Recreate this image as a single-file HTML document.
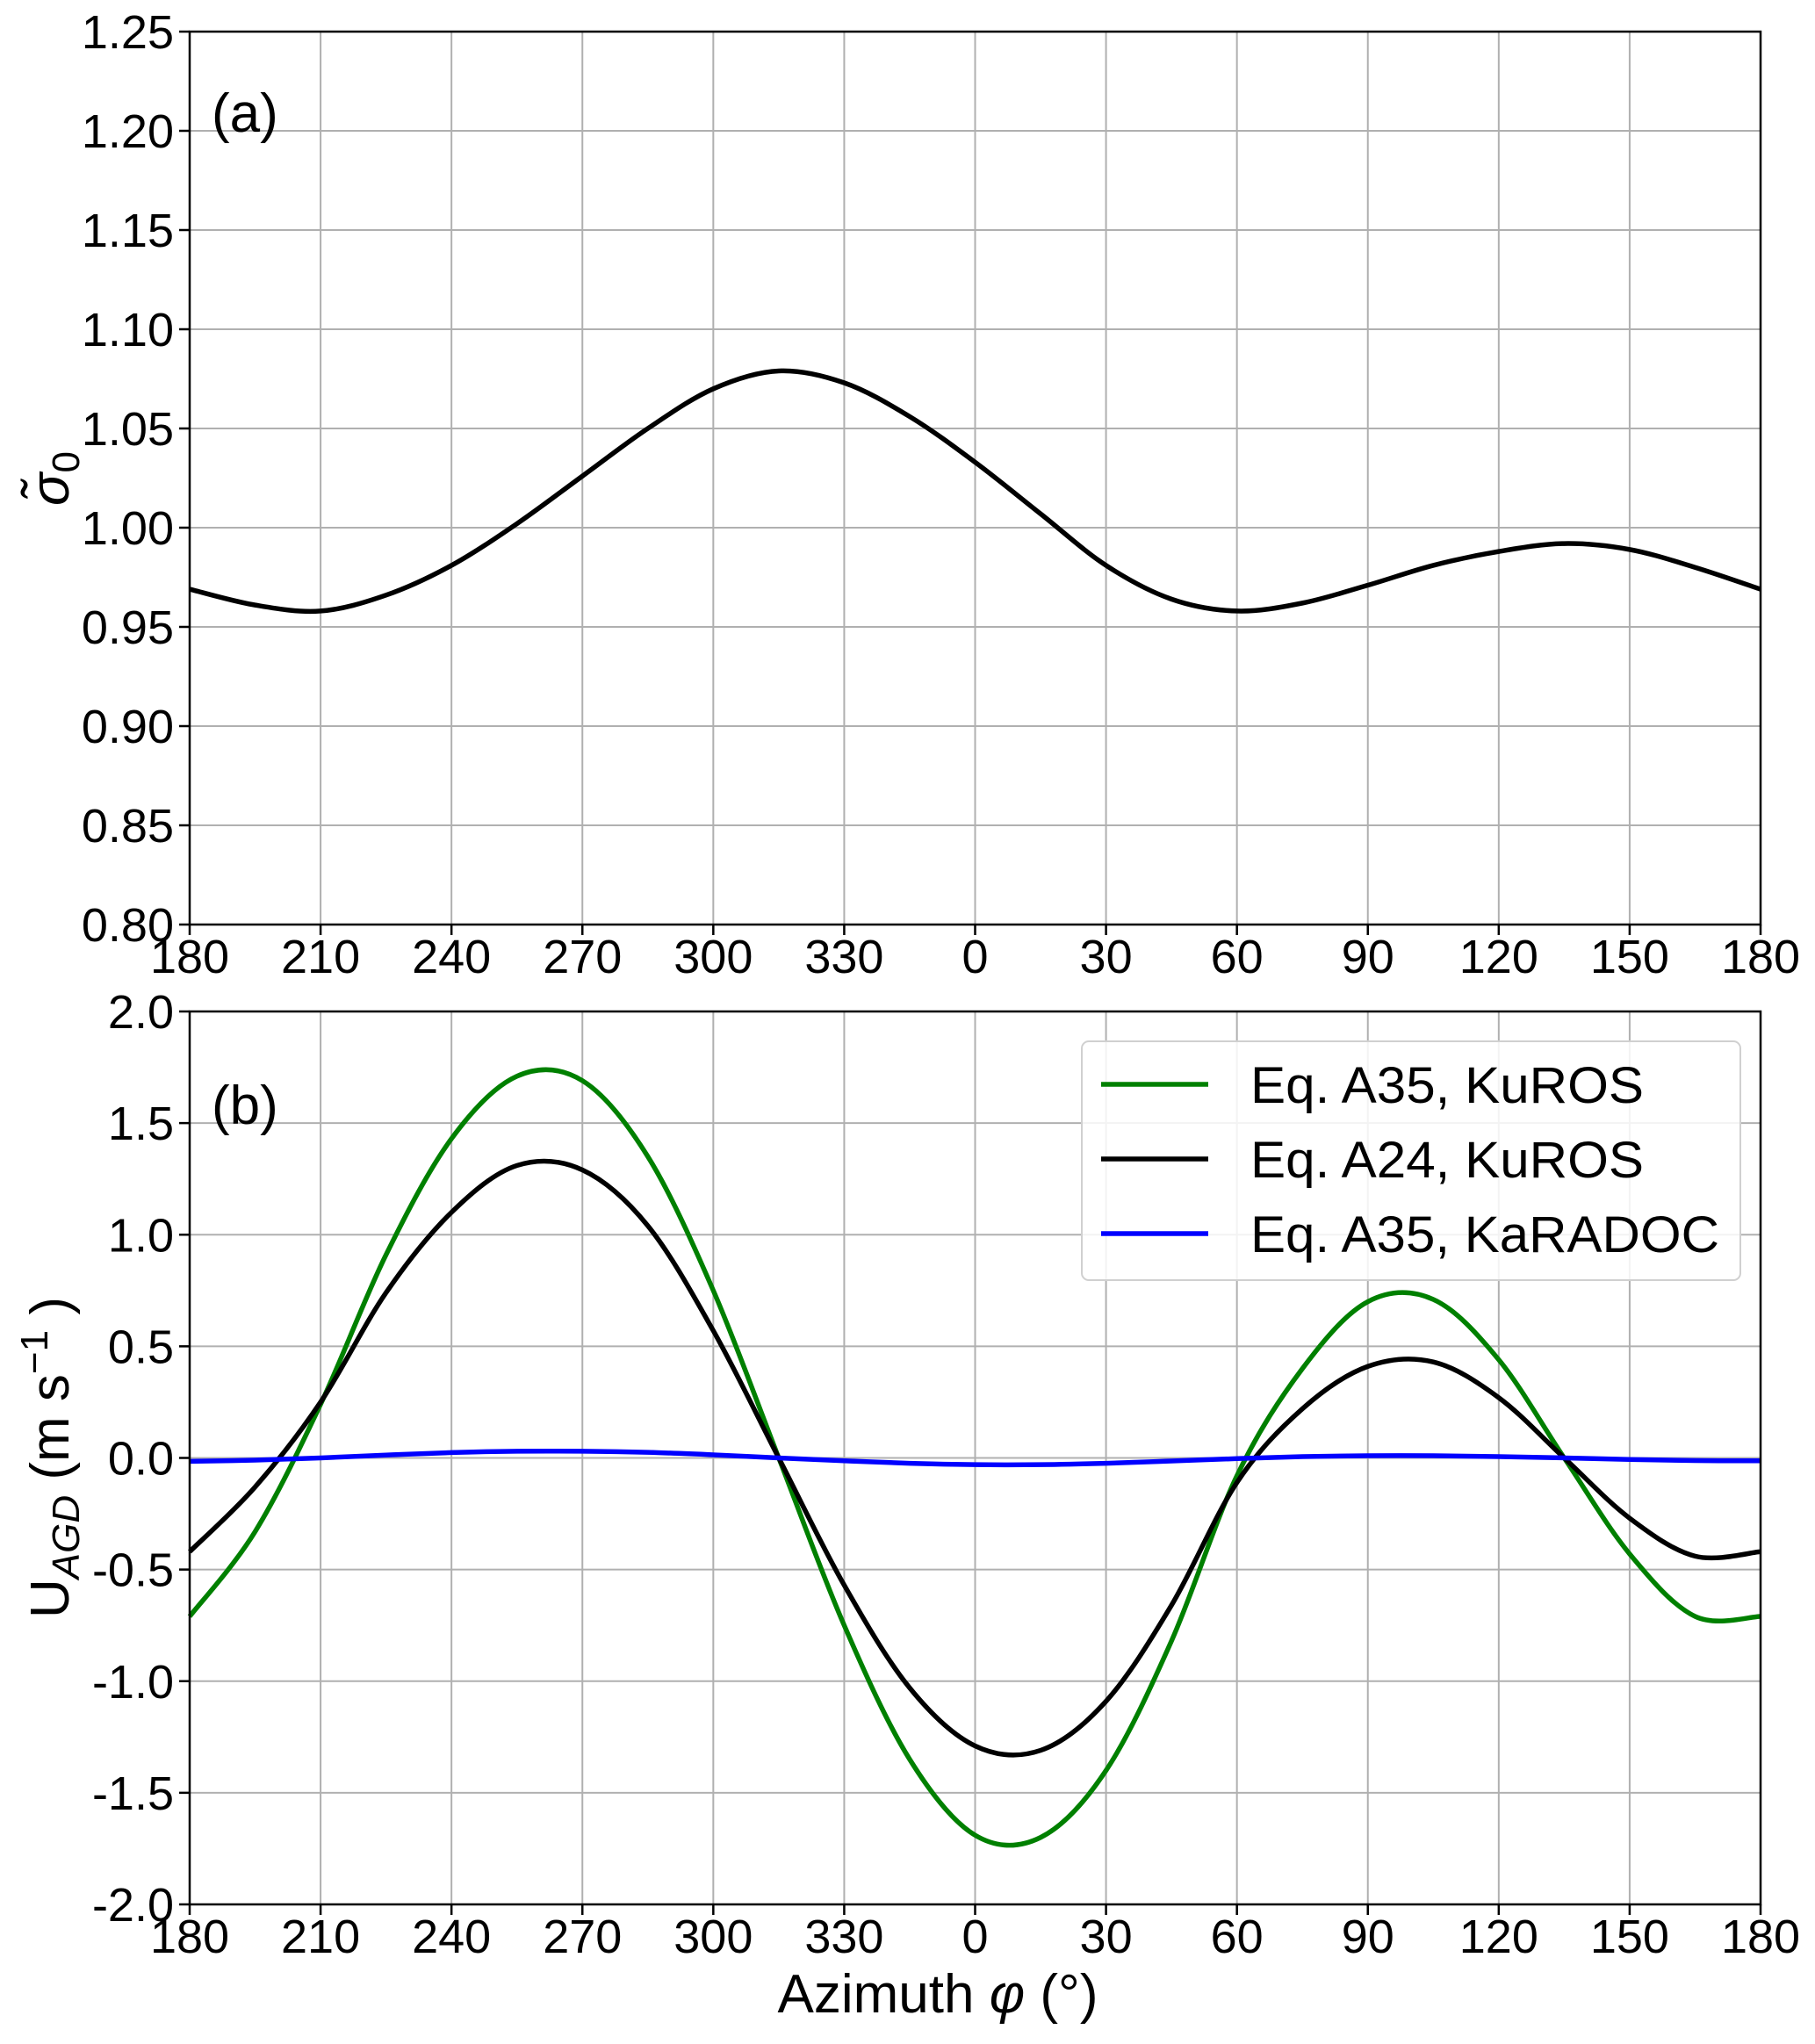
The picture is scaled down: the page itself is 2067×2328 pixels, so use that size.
<!DOCTYPE html>
<html><head><meta charset="utf-8"><style>
html,body{margin:0;padding:0;background:#fff;}
svg text{font-family:"Liberation Sans",Arial,sans-serif;fill:#000;}
</style></head><body>
<svg id="chart" width="2067" height="2323" viewBox="0 0 2067 2323" xmlns="http://www.w3.org/2000/svg">
<rect width="2067" height="2323" fill="#fff"/>
<g id="pa"></g>
<g id="pb"></g>
</svg>
<script>
const xTickLabels = ["180","210","240","270","300","330","0","30","60","90","120","150","180"];
const xSteps = [0,15,30,45,60,75,90,105,120,135,150,165,180,195,210,225,240,255,270,285,300,315,330,345,360];
const sigmaVals = [0.969,0.961,0.958,0.966,0.981,1.002,1.026,1.050,1.070,1.079,1.073,1.056,1.033,1.007,0.981,0.964,0.958,0.962,0.971,0.981,0.988,0.992,0.989,0.980,0.969];
const greenVals = [-0.71,-0.33,0.24,0.91,1.43,1.71,1.69,1.35,0.75,0.0,-0.75,-1.35,-1.69,-1.70,-1.40,-0.82,-0.08,0.40,0.70,0.71,0.44,0.0,-0.43,-0.71,-0.71];
const blackVals = [-0.42,-0.13,0.25,0.74,1.10,1.31,1.29,1.04,0.57,0.0,-0.57,-1.03,-1.29,-1.31,-1.09,-0.66,-0.11,0.22,0.41,0.43,0.27,0.0,-0.27,-0.44,-0.42];
const blueVals = [-0.015,-0.01,0.0,0.013,0.024,0.03,0.03,0.025,0.014,0.0,-0.013,-0.024,-0.03,-0.03,-0.024,-0.014,-0.003,0.006,0.01,0.01,0.006,0.0,-0.007,-0.012,-0.013];
const aTicks = ["1.25","1.20","1.15","1.10","1.05","1.00","0.95","0.90","0.85","0.80"];
const bTicks = ["2.0","1.5","1.0","0.5","0.0","-0.5","-1.0","-1.5","-2.0"];

const NS="http://www.w3.org/2000/svg";
const L=216,R=2005;
function mk(parent,tag,attrs){const e=document.createElementNS(NS,tag);for(const k in attrs)e.setAttribute(k,attrs[k]);parent.appendChild(e);return e;}
const xs=v=>L+(v/360)*(R-L);

function smoothPath(pts){
  let d=`M${pts[0][0]},${pts[0][1]}`;
  for(let i=0;i<pts.length-1;i++){
    const p0=pts[Math.max(i-1,0)],p1=pts[i],p2=pts[i+1],p3=pts[Math.min(i+2,pts.length-1)];
    const c1=[p1[0]+(p2[0]-p0[0])/6,p1[1]+(p2[1]-p0[1])/6];
    const c2=[p2[0]-(p3[0]-p1[0])/6,p2[1]-(p3[1]-p1[1])/6];
    d+=` C${c1[0]},${c1[1]} ${c2[0]},${c2[1]} ${p2[0]},${p2[1]}`;
  }
  return d;
}

function panel(g,top,bot,ymin,ymax,ticks,tickLblY){
  const ys=v=>bot-(v-ymin)/(ymax-ymin)*(bot-top);
  xTickLabels.forEach((t,i)=>{
    const x=xs(i*30);
    const gl=mk(g,'line',{x1:x,x2:x,y1:top,y2:bot,stroke:'#b0b0b0','stroke-width':2});
    
    
    mk(g,'line',{x1:x,x2:x,y1:bot,y2:bot+12,stroke:'#000','stroke-width':2.5});
    const tx=mk(g,'text',{x:x,y:tickLblY,'font-size':54,'text-anchor':'middle'});
    tx.textContent=t;
    
    
  });
  ticks.forEach((t)=>{
    const v=parseFloat(t);const y=ys(v);
    const gl=mk(g,'line',{x1:L,x2:R,y1:y,y2:y,stroke:'#b0b0b0','stroke-width':2});
    
    
    mk(g,'line',{x1:L-12,x2:L,y1:y,y2:y,stroke:'#000','stroke-width':2.5});
    const tx=mk(g,'text',{x:198,y:y+19,'font-size':54,'text-anchor':'end'});
    tx.textContent=t;
    
    
  });
  return ys;
}

// Panel a
const ga=document.getElementById('pa');
const ysa=panel(ga,36,1053,0.80,1.25,aTicks,1108);
const pa=mk(ga,'path',{d:smoothPath(xSteps.map((s,i)=>[xs(s),ysa(sigmaVals[i])])),fill:'none',stroke:'#000','stroke-width':5.5});


const fa=mk(ga,'rect',{x:L,y:36,width:R-L,height:1017,fill:'none',stroke:'#000','stroke-width':2.5});


const la=mk(ga,'text',{x:241,y:150,'font-size':62});la.textContent='(a)';


const yla=mk(ga,'text',{x:0,y:0,'font-size':62,'font-style':'italic','text-anchor':'middle',transform:'translate(78,545) rotate(-90)'});
yla.innerHTML='σ̃<tspan font-size="44" dy="12" font-style="normal">0</tspan>';



// Panel b
const gb=document.getElementById('pb');
const ysb=panel(gb,1152,2169,-2,2,bTicks,2224);
[[greenVals,'#008000','a35-kuros-curve'],[blackVals,'#000','a24-kuros-curve'],[blueVals,'#0000ff','a35-karadoc-curve']].forEach(([vals,col,nm])=>{
  const p=mk(gb,'path',{d:smoothPath(xSteps.map((s,i)=>[xs(s),ysb(vals[i])])),fill:'none',stroke:col,'stroke-width':5.5});
  
  
});
const fb=mk(gb,'rect',{x:L,y:1152,width:R-L,height:1017,fill:'none',stroke:'#000','stroke-width':2.5});


const lb=mk(gb,'text',{x:241,y:1280,'font-size':62});lb.textContent='(b)';


const ylb=mk(gb,'text',{x:0,y:0,'font-size':62,'text-anchor':'middle',transform:'translate(78,1660) rotate(-90)'});
ylb.innerHTML='U<tspan font-size="44" font-style="italic" dy="12">AGD</tspan><tspan dy="-12"> (m s</tspan><tspan font-size="44" dy="-24">−1</tspan><tspan dy="24"> )</tspan>';


const xt=mk(gb,'text',{x:1068,y:2292,'font-size':62,'text-anchor':'middle'});
xt.innerHTML='Azimuth <tspan font-style="italic">φ</tspan> (°)';



// legend
const lg=mk(gb,'g',{});


mk(lg,'rect',{x:1232,y:1186,width:750,height:272,rx:8,fill:'#fff','fill-opacity':0.85,stroke:'#d0d0d0','stroke-width':2});
const legNames=['Eq. A35, KuROS','Eq. A24, KuROS','Eq. A35, KaRADOC'];
const legCols=['#008000','#000','#0000ff'];
legNames.forEach((n,i)=>{
  const y=1235+i*85;
  const e=mk(lg,'g',{});
  
  
  mk(e,'line',{x1:1254,x2:1376,y1:y,y2:y,stroke:legCols[i],'stroke-width':5.5});
  const t=mk(e,'text',{x:1424,y:y+21,'font-size':58,'textLength':n.length>15?534:448,'lengthAdjust':'spacingAndGlyphs'});t.textContent=n;
});
</script>
</body></html>
